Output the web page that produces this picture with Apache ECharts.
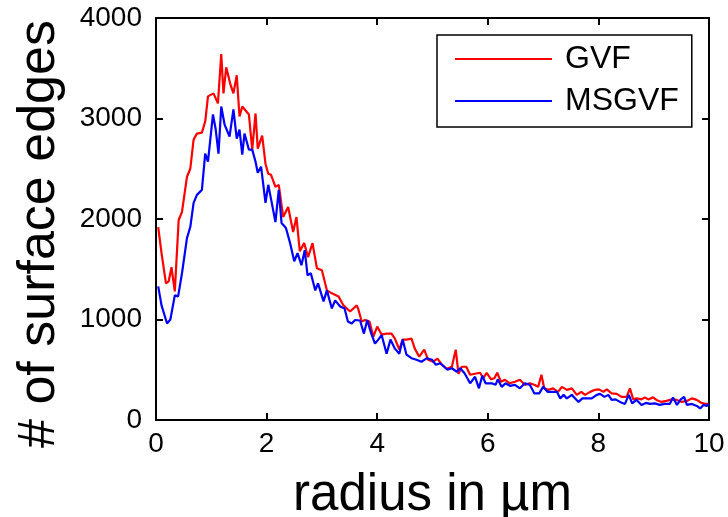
<!DOCTYPE html>
<html lang="en">
<head>
    <meta charset="UTF-8">
    <title>surface edges vs radius</title>
    <style>
        *{
            margin: 0;
            padding: 0;
        }
        body{
            background: #fff;
        }
        .box{
            width: 728px;
            height: 517px;
        }
    </style>
</head>
<body>
    <div class="box"></div>
    <script src="https://cdn.jsdelivr.net/npm/echarts@6/dist/echarts.min.js"></script>
    <script>
        // values
        var gvfRadius = [0.04, 0.10, 0.18, 0.23, 0.28, 0.34, 0.41, 0.47, 0.56, 0.62, 0.68, 0.74, 0.83, 0.89, 0.94,
            1.04, 1.12, 1.18, 1.22, 1.27, 1.34, 1.40, 1.46, 1.51, 1.56, 1.68, 1.74, 1.80, 1.84, 1.92, 1.98,
            2.03, 2.08, 2.16, 2.22, 2.30, 2.39, 2.48, 2.54, 2.60, 2.68, 2.75, 2.83, 2.91, 3.00,
            3.09, 3.18, 3.30, 3.39, 3.51, 3.63, 3.66, 3.72, 3.78, 3.86, 3.93, 4.00,
            4.08, 4.17, 4.26, 4.32, 4.40, 4.46, 4.53, 4.62, 4.68, 4.76, 4.85, 4.92, 5.01,
            5.09, 5.17, 5.26, 5.35, 5.42, 5.47, 5.53, 5.61, 5.68, 5.77, 5.86, 5.92, 5.98,
            6.06, 6.12, 6.17, 6.24, 6.31, 6.40, 6.49, 6.58, 6.67, 6.76, 6.84, 6.91, 6.97,
            7.02, 7.09, 7.18, 7.27, 7.34, 7.43, 7.52, 7.61, 7.69, 7.76, 7.85, 7.94,
            8.01, 8.09, 8.15, 8.24, 8.33, 8.42, 8.51, 8.57, 8.63, 8.69, 8.78, 8.84, 8.90, 8.99,
            9.05, 9.14, 9.23, 9.33, 9.42, 9.51, 9.60, 9.69, 9.78, 9.86, 9.93, 10.0];
        var gvfEdges = [1920, 1660, 1360, 1380, 1520, 1280, 1990, 2070, 2420, 2500, 2790, 2850, 2860, 2970, 3220,
            3250, 3150, 3640, 3250, 3510, 3350, 3250, 3430, 3020, 3120, 3040, 2690, 3050, 2700, 2830, 2550,
            2450, 2440, 2320, 2340, 2020, 2120, 1870, 2020, 1680, 1760, 1620, 1760, 1510, 1490,
            1290, 1260, 1230, 1140, 1080, 1140, 1100, 980, 995, 980, 830, 930,
            850, 860, 860, 810, 700, 800, 800, 810, 710, 630, 700, 600, 580,
            610, 550, 510, 530, 700, 460, 530, 530, 450, 460, 470, 415, 470,
            405, 415, 470, 380, 400, 365, 380, 400, 350, 365, 350, 330, 450,
            315, 300, 315, 280, 330, 300, 315, 250, 280, 250, 280, 300,
            305, 280, 305, 265, 260, 230, 230, 315, 205, 215, 205, 225, 205, 225,
            200, 180, 190, 205, 200, 180, 190, 215, 200, 170, 160, 160];

        var msgvfRadius = [0.04, 0.10, 0.13, 0.20, 0.26, 0.34, 0.40, 0.47, 0.56, 0.62, 0.68, 0.74, 0.83, 0.89, 0.94,
            1.03, 1.08, 1.13, 1.18, 1.24, 1.33, 1.40, 1.46, 1.51, 1.56, 1.60, 1.68, 1.74, 1.80, 1.84, 1.90, 1.98,
            2.03, 2.09, 2.16, 2.22, 2.27, 2.35, 2.42, 2.50, 2.56, 2.63, 2.69, 2.74, 2.80, 2.88, 2.93,
            3.03, 3.09, 3.18, 3.24, 3.33, 3.41, 3.47, 3.54, 3.60, 3.69, 3.76, 3.82, 3.88, 3.96,
            4.02, 4.08, 4.17, 4.24, 4.32, 4.40, 4.46, 4.53, 4.62, 4.71, 4.80, 4.90, 4.99,
            5.06, 5.14, 5.21, 5.27, 5.35, 5.44, 5.50, 5.58, 5.68, 5.77, 5.84, 5.90, 5.96,
            6.07, 6.14, 6.18, 6.25, 6.32, 6.40, 6.49, 6.58, 6.67, 6.76, 6.84, 6.93,
            7.00, 7.08, 7.17, 7.25, 7.31, 7.37, 7.43, 7.52, 7.58, 7.64, 7.71, 7.79, 7.88, 7.97,
            8.03, 8.11, 8.18, 8.24, 8.31, 8.39, 8.48, 8.55, 8.61, 8.69, 8.78, 8.86, 8.93,
            9.02, 9.11, 9.20, 9.29, 9.35, 9.42, 9.49, 9.55, 9.60, 9.69, 9.78, 9.84, 9.90, 9.96, 10.0];
        var msgvfEdges = [1330, 1140, 1150, 960, 1000, 1240, 1230, 1460, 1810, 1920, 2160, 2240, 2290, 2650, 2570,
            3040, 2890, 2650, 3120, 2940, 2820, 3090, 2800, 2890, 2640, 2850, 2690, 2690, 2570, 2460, 2520, 2160,
            2340, 2170, 1970, 2290, 1960, 1910, 1770, 1580, 1660, 1540, 1690, 1440, 1460, 1290, 1360,
            1180, 1290, 1110, 1190, 1130, 1110, 980, 960, 995, 990, 860, 995, 880, 760,
            800, 845, 660, 800, 710, 660, 800, 650, 615, 600, 580, 615, 600,
            550, 565, 530, 500, 515, 480, 515, 465, 365, 430, 315, 440, 365,
            365, 350, 405, 330, 365, 340, 350, 315, 365, 350, 265, 265,
            330, 280, 280, 280, 215, 250, 215, 250, 215, 180, 215, 215, 215, 250,
            260, 230, 250, 200, 205, 180, 160, 250, 165, 200, 150, 170, 160,
            165, 150, 160, 160, 225, 150, 205, 230, 150, 160, 140, 115, 150, 140, 160];

        var xTicks = [0, 2, 4, 6, 8, 10];
        var yTicks = [0, 1000, 2000, 3000, 4000];

        function pairs(xs, ys){
            return xs.map(function(x, i){
                return [x, ys[i]];
            });
        }

        var font = 'Liberation Sans, Arial, sans-serif';

        function plain(v){
            return String(v);
        }

        // top and right axes just close the box, with the same ranges
        function boxAxis(ticks, pos, extra){
            var axis = {
                type: 'value',
                position: pos,
                min: ticks[0],
                max: ticks[ticks.length - 1],
                interval: ticks[1] - ticks[0],
                axisLine: { show: true, onZero: false, lineStyle: { color: '#000', width: 2 } },
                axisTick: { show: true, inside: true, length: 7, lineStyle: { color: '#000', width: 2 } },
                axisLabel: { show: false },
                splitLine: { show: false }
            };
            for (var k in extra) {
                axis[k] = extra[k];
            }
            return axis;
        }

        var chart = echarts.init(document.querySelector('.box'));
        var option = {
            animation: false,
            backgroundColor: '#fff',
            grid: {
                left: 156,
                right: 19,
                top: 18,
                bottom: 97,
                containLabel: false,
                outerBoundsMode: 'none'
            },
            legend: {
                left: 437,
                top: 35,
                orient: 'vertical',
                icon: 'rect',
                itemWidth: 97,
                itemHeight: 2,
                itemGap: 10,
                padding: [8, 13, 10, 18],
                borderColor: '#000',
                borderWidth: 1.5,
                backgroundColor: '#fff',
                textStyle: {
                    fontFamily: font,
                    fontSize: 32,
                    color: '#000',
                    padding: [0, 0, 0, 8]
                },
                data: ['GVF', 'MSGVF']
            },
            xAxis: [boxAxis(xTicks, 'bottom', {
                name: 'radius in µm',
                nameLocation: 'middle',
                nameGap: 50,
                nameTextStyle: { fontFamily: font, fontSize: 51, color: '#000' },
                axisLabel: { fontFamily: font, fontSize: 28, color: '#000', margin: 10, formatter: plain }
            }), boxAxis(xTicks, 'top', { gridIndex: 0 })],
            yAxis: [boxAxis(yTicks, 'left', {
                name: '# of surface edges',
                nameLocation: 'middle',
                nameGap: 90,
                nameTextStyle: { fontFamily: font, fontSize: 52, color: '#000', padding: [0, 30, 0, 0] },
                axisLabel: { fontFamily: font, fontSize: 28, color: '#000', margin: 14, formatter: plain }
            }), boxAxis(yTicks, 'right', { gridIndex: 0 })],
            series: [{
                name: 'GVF',
                type: 'line',
                showSymbol: false,
                color: '#ff0000',
                lineStyle: { width: 2.2, color: '#ff0000' },
                data: pairs(gvfRadius, gvfEdges)
            }, {
                name: 'MSGVF',
                type: 'line',
                xAxisIndex: 1,
                yAxisIndex: 1,
                showSymbol: false,
                color: '#0000ff',
                lineStyle: { width: 2.2, color: '#0000ff' },
                data: pairs(msgvfRadius, msgvfEdges)
            }]
        };
        chart.setOption(option);
    </script>
</body>
</html>
